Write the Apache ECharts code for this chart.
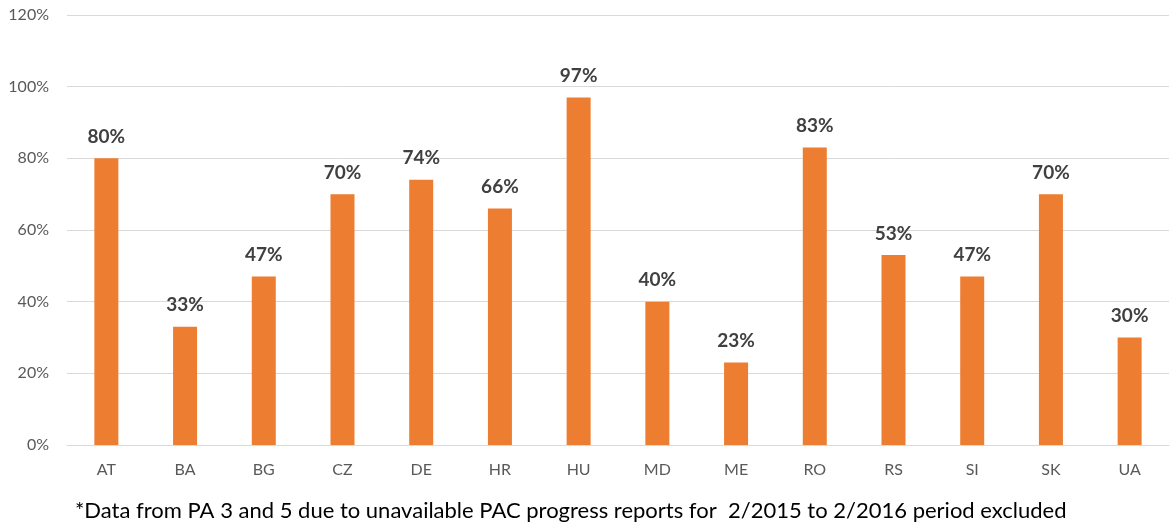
<!DOCTYPE html>
<html>
<head>
<meta charset="utf-8">
<script src="https://cdn.jsdelivr.net/npm/echarts@6/dist/echarts.min.js"></script>
<style>
  html, body { margin: 0; padding: 0; background: #fff; }
  #chart { width: 1171px; height: 523px; }
</style>
</head>
<body>
<div id="chart"></div>
<script>
const countries = ["AT", "BA", "BG", "CZ", "DE", "HR", "HU", "MD", "ME", "RO", "RS", "SI", "SK", "UA"];
const shares = [80, 33, 47, 70, 74, 66, 97, 40, 23, 83, 53, 47, 70, 30];
const footnote = "*Data from PA 3 and 5 due to unavailable PAC progress reports for  2/2015 to 2/2016 period excluded";

const chart = echarts.init(document.getElementById("chart"));

const option = {
  backgroundColor: "#fff",
  animation: false,
  textStyle: { fontFamily: "Lato" },
  grid: { left: 67, right: 2, top: 15, bottom: 78 },
  xAxis: {
    type: "category",
    data: countries,
    axisTick: { show: false },
    axisLine: { lineStyle: { color: "#d9d9d9", width: 1 } },
    axisLabel: { color: "#595959", fontSize: 16, margin: 17, fontFamily: "Lato" },
  },
  yAxis: {
    type: "value",
    min: 0,
    max: 120,
    interval: 20,
    axisLine: { show: false },
    axisTick: { show: false },
    axisLabel: {
      color: "#595959",
      fontSize: 16,
      margin: 18,
      fontFamily: "Lato",
      formatter: (v) => v + "%",
    },
    splitLine: { lineStyle: { color: "#d9d9d9", width: 1 } },
  },
  series: [
    {
      type: "bar",
      data: shares,
      barWidth: 24,
      itemStyle: { color: "#ED7D31" },
      label: {
        show: true,
        position: "top",
        distance: 12,
        color: "#404040",
        fontWeight: "bold",
        fontSize: 19,
        fontFamily: "Lato",
        formatter: (p) => p.value + "%",
      },
    },
  ],
  graphic: [
    {
      type: "text",
      left: 75,
      top: 500,
      style: {
        text: footnote,
        fill: "#000",
        fontSize: 22,
        fontFamily: "Lato",
      },
    },
  ],
};

chart.setOption(option);
</script>
</body>
</html>
